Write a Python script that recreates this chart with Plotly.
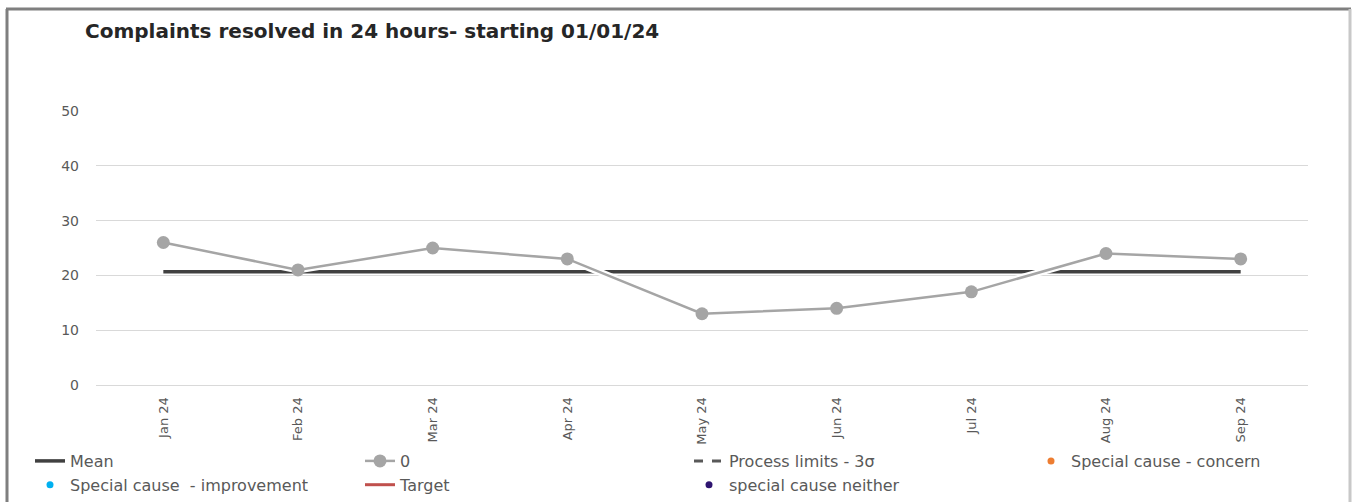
import plotly.graph_objects as go

# Monthly complaints resolved within 24 hours
months = ["Jan 24", "Feb 24", "Mar 24", "Apr 24", "May 24", "Jun 24", "Jul 24", "Aug 24", "Sep 24"]
resolved = [26, 21, 25, 23, 13, 14, 17, 24, 23]
mean_value = sum(resolved) / len(resolved)
mean_line = [mean_value] * len(months)
y_ticks = [0, 10, 20, 30, 40, 50]

W, H = 1354, 502
L, R, T, B = 96, 46, 111, 117
pw, ph = W - L - R, H - T - B


def px_x(x):
    return (x - L) / pw


def px_y(y):
    return (H - B - y) / ph


FONT = "DejaVu Sans"
TXT = "#595959"
empty = [None] * len(months)

fig = go.Figure()

fig.add_trace(go.Scatter(
    x=months, y=mean_line, name="Mean", mode="lines", legend="legend",
    line=dict(color="#404040", width=3.5),
))
# white halo under the data series
fig.add_trace(go.Scatter(
    x=months, y=resolved, mode="lines", showlegend=False, hoverinfo="skip",
    line=dict(color="white", width=7),
))
fig.add_trace(go.Scatter(
    x=months, y=resolved, name="0", mode="lines+markers", legend="legend2",
    line=dict(color="#A5A5A5", width=2.5),
    marker=dict(color="#A5A5A5", size=13),
))
fig.add_trace(go.Scatter(
    x=months, y=empty, name="Process limits - 3σ", mode="lines", legend="legend3",
    line=dict(color="#595959", width=3, dash="dash"),
))
fig.add_trace(go.Scatter(
    x=months, y=empty, name="Special cause - concern", mode="markers", legend="legend4",
    marker=dict(color="#ED7D31", size=7),
))
fig.add_trace(go.Scatter(
    x=months, y=empty, name="Special cause  - improvement", mode="markers", legend="legend",
    marker=dict(color="#00B0F0", size=7),
))
fig.add_trace(go.Scatter(
    x=months, y=empty, name="Target", mode="lines", legend="legend2",
    line=dict(color="#C0504D", width=3),
))
fig.add_trace(go.Scatter(
    x=months, y=empty, name="special cause neither", mode="markers", legend="legend3",
    marker=dict(color="#2E1470", size=7),
))


def legend_at(left_px):
    return dict(
        orientation="v", x=px_x(left_px), xanchor="left", y=px_y(444), yanchor="top",
        font=dict(family=FONT, size=16, color=TXT),
        bgcolor="rgba(0,0,0,0)", traceorder="normal",
    )


fig.update_layout(
    width=W, height=H,
    margin=dict(l=L, r=R, t=T, b=B, autoexpand=False),
    paper_bgcolor="white", plot_bgcolor="white",
    font=dict(family=FONT, color=TXT, size=14),
    showlegend=True,
    legend=legend_at(30),
    legend2=legend_at(360),
    legend3=legend_at(689),
    legend4=legend_at(1031),
    xaxis=dict(
        type="category", range=[-0.5, len(months) - 0.5],
        showgrid=False, showline=True, linecolor="#D9D9D9", linewidth=1,
        ticks="", tickangle=-90, tickfont=dict(size=13, color=TXT),
        ticklabelstandoff=6, zeroline=False,
    ),
    yaxis=dict(
        range=[0, 50], tickvals=y_ticks, showgrid=True, gridcolor="#D9D9D9",
        gridwidth=1, zeroline=False, showline=False, ticks="",
        tickfont=dict(size=14, color=TXT), ticklabelstandoff=16,
    ),
    annotations=[dict(
        text="<b>Complaints resolved in 24 hours- starting 01/01/24</b>",
        xref="paper", yref="paper", x=px_x(83), y=px_y(31),
        xanchor="left", yanchor="middle", showarrow=False,
        font=dict(family=FONT, size=20, color="#262626"),
    )],
    shapes=[
        dict(type="line", xref="paper", yref="paper", x0=px_x(7), x1=px_x(7),
             y0=px_y(9), y1=px_y(510), line=dict(color="#7F7F7F", width=3)),
        dict(type="line", xref="paper", yref="paper", x0=px_x(6), x1=px_x(1351),
             y0=px_y(9), y1=px_y(9), line=dict(color="#7F7F7F", width=3)),
        dict(type="line", xref="paper", yref="paper", x0=px_x(1350), x1=px_x(1350),
             y0=px_y(9), y1=px_y(510), line=dict(color="#C8C8C8", width=3)),
    ],
)

fig.write_html("out.html")
